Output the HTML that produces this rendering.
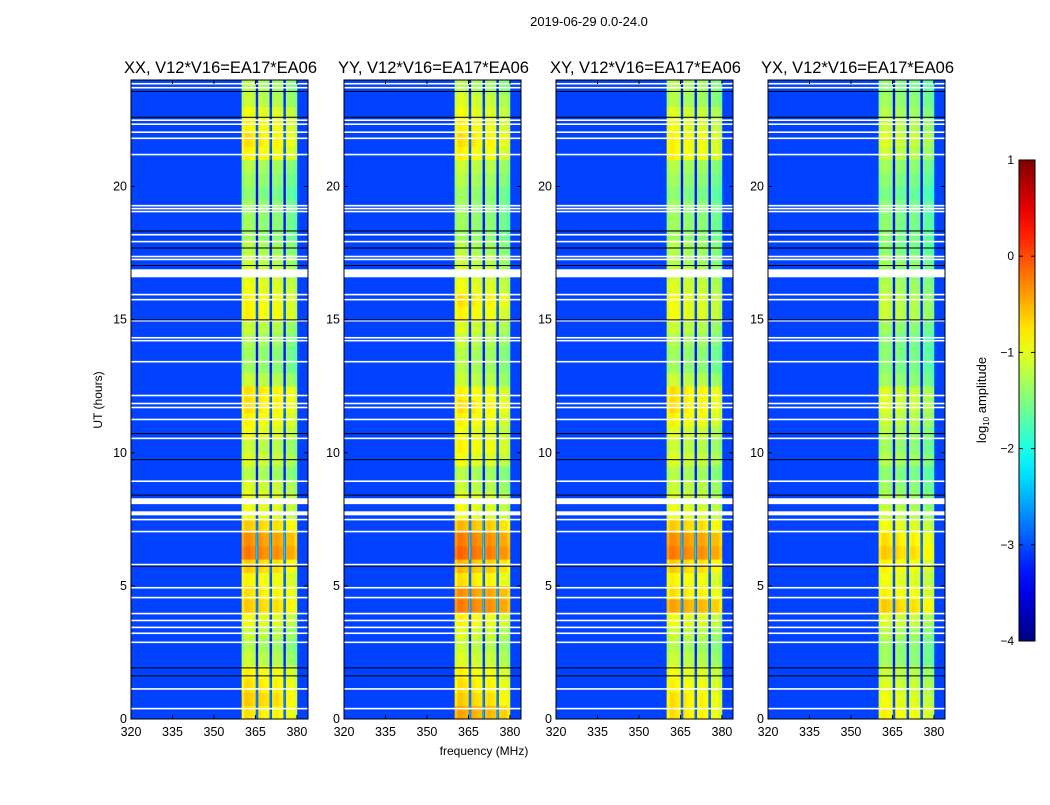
<!DOCTYPE html>
<html><head><meta charset="utf-8"><style>
body{margin:0;background:#fff;font-family:"Liberation Sans","DejaVu Sans",sans-serif}
svg text{font-family:"Liberation Sans","DejaVu Sans",sans-serif}
</style></head><body>
<svg id="fig" width="1050" height="800" xmlns="http://www.w3.org/2000/svg">
<rect width="1050" height="800" fill="#fff"/>
<text x="589" y="26" font-size="13" text-anchor="middle">2019-06-29 0.0-24.0</text>
<text x="484" y="755" font-size="12" text-anchor="middle">frequency (MHz)</text>
<text x="0" y="0" font-size="12" text-anchor="middle" transform="translate(102,400) rotate(-90)">UT (hours)</text>
<g id="panels"></g>
<g id="cbar"></g>
</svg>
<script>
const panelTitles=["XX, V12*V16=EA17*EA06","YY, V12*V16=EA17*EA06","XY, V12*V16=EA17*EA06","YX, V12*V16=EA17*EA06"];
const xTicks=[320,335,350,365,380];
const yTicks=[0,5,10,15,20];
const cbTicks=[1,0,-1,-2,-3,-4];
const backgroundLevel=-3.05;
// offset per 1 MHz bin from 320..383; null = background
const freqOffset=[null,null,null,null,null,null,null,null,null,null,null,null,null,null,null,null,null,null,null,null,
null,null,null,null,null,null,null,null,null,null,null,null,null,null,null,null,null,null,null,null,
-0.05,0.1,0.1,0.05,0,-2.0,0.05,0,-0.05,-0.05,-2.0,-0.05,0,-0.05,-0.1,-2.0,-0.15,-0.15,-0.15,-0.3,null,null,null,null];
// half-hour band levels per panel
const levelsXX=[-0.8,-0.7,-0.8,-0.9,-1.2,-1.3,-1.2,-1.0,-0.7,-0.8,-0.9,-0.7,-0.3,-0.4,-0.7,-1.0,-1.0,-1.1,-1.3,-1.1,-1.2,-1.0,-0.9,-0.8,-0.8,-1.2,-1.4,-1.4,-1.3,-1.2,-0.9,-0.9,-1.0,-1.1,-1.2,-1.3,-1.4,-1.4,-1.4,-1.5,-1.4,-1.3,-0.9,-0.8,-0.9,-1.0,-1.2,-1.3];
const levelsYY=[-0.5,-0.7,-0.8,-0.9,-1.1,-1.2,-1.1,-0.9,-0.3,-0.4,-0.8,-0.6,-0.2,-0.3,-0.6,-1.0,-1.0,-1.2,-1.3,-1.0,-0.9,-1.0,-0.9,-0.8,-0.9,-1.2,-1.3,-1.3,-1.2,-1.1,-0.9,-0.8,-1.0,-1.1,-1.2,-1.3,-1.4,-1.4,-1.4,-1.4,-1.3,-1.2,-0.9,-0.8,-0.9,-1.0,-1.1,-1.3];
const levelsXY=[-0.8,-0.8,-0.9,-1.0,-1.2,-1.3,-1.2,-1.0,-0.5,-0.8,-0.9,-0.7,-0.3,-0.4,-0.7,-1.0,-1.1,-1.2,-1.3,-1.1,-1.2,-1.1,-0.9,-0.8,-0.8,-1.2,-1.4,-1.4,-1.3,-1.2,-1.0,-1.0,-1.1,-1.2,-1.3,-1.3,-1.4,-1.4,-1.4,-1.5,-1.4,-1.3,-0.9,-0.9,-1.0,-1.1,-1.3,-1.3];
const levelsYX=[-0.9,-1.0,-1.1,-1.2,-1.4,-1.4,-1.3,-1.1,-0.7,-0.9,-1.0,-0.9,-0.7,-0.8,-1.0,-1.2,-1.3,-1.4,-1.5,-1.3,-1.4,-1.3,-1.2,-1.1,-1.1,-1.4,-1.5,-1.5,-1.5,-1.4,-1.2,-1.2,-1.3,-1.4,-1.4,-1.5,-1.5,-1.5,-1.5,-1.6,-1.5,-1.4,-1.2,-1.1,-1.2,-1.3,-1.4,-1.5];
const panelLevels=[levelsXX,levelsYY,levelsXY,levelsYX];
// flagged (white) hour ranges
const flagStart=[23.83,23.68,22.46,22.31,22.01,21.78,21.17,19.25,19.14,19.03,18.16,17.9,17.34,17.23,16.59,15.91,15.72,14.93,14.29,14.18,13.39,12.12,11.82,11.67,11.22,10.51,8.9,8.07,7.65,7.46,7.01,5.77,4.9,4.53,3.93,3.67,3.41,3.19,2.85,1.1,0.36];
const flagEnd=[23.89,23.74,22.52,22.37,22.07,21.84,21.23,19.31,19.2,19.09,18.22,17.96,17.4,17.29,16.89,15.97,15.78,14.99,14.35,14.24,13.45,12.18,11.88,11.73,11.28,10.57,8.96,8.29,7.8,7.52,7.07,5.83,4.96,4.59,3.99,3.73,3.47,3.25,2.91,1.16,0.42];
const blackLines=[23.57,22.6,18.33,17.69,17.03,14.99,10.72,9.74,8.41,5.74,1.92,1.62];

const W=177,Y0=80,Y1=719,FMIN=320,FMAX=384,HMAX=24;
const px=[131,344,556,768];
const NS="http://www.w3.org/2000/svg";
function mk(t,a,p){const e=document.createElementNS(NS,t);for(const k in a)e.setAttribute(k,a[k]);p.appendChild(e);return e;}
function jet(v){let t=(v+4)/5;t=Math.max(0,Math.min(1,t));
 const c=x=>Math.round(255*Math.max(0,Math.min(1,x)));
 return `rgb(${c(1.5-Math.abs(4*t-3))},${c(1.5-Math.abs(4*t-2))},${c(1.5-Math.abs(4*t-1))})`;}
const yOf=h=>Y1-(h/HMAX)*(Y1-Y0);
const panels=document.getElementById('panels');
panelLevels.forEach((lev,p)=>{
 const x0=px[p];const xOf=f=>x0+(f-FMIN)/(FMAX-FMIN)*W;
 const g=mk('g',{},panels);
 
 
 const bg=mk('rect',{x:x0,y:Y0,width:W,height:Y1-Y0,fill:jet(backgroundLevel)},g);
 
 
 const hm=mk('g',{},g);
 
 
 freqOffset.forEach((off,fi)=>{
  if(off===null)return;
  lev.forEach((lv,ti)=>{
   const h0=ti*0.5,h1=h0+0.5;
   const narrow=off<-1;
   const fx=xOf(FMIN+fi)+(narrow?0.6:0);
   const fw=narrow?1.6:xOf(FMIN+fi+1)-xOf(FMIN+fi)+0.3;
   const r=mk('rect',{x:fx,y:yOf(h1),width:fw,height:yOf(h0)-yOf(h1)+0.3,fill:jet(lv+off)},hm);
   
   
  });
 });
 flagStart.forEach((s,i)=>{
  const r=mk('rect',{x:x0,y:yOf(flagEnd[i]),width:W,height:Math.max(1.2,yOf(s)-yOf(flagEnd[i])),fill:'#fff'},g);
  
  
 });
 blackLines.forEach(h=>{
  const r=mk('rect',{x:x0,y:yOf(h)-0.5,width:W,height:1,fill:'#000'},g);
  
  
 });
 const fr=mk('rect',{x:x0,y:Y0,width:W,height:Y1-Y0,fill:'none',stroke:'#000','stroke-width':1},g);
 
 
 const t=mk('text',{x:x0+W/2+1,y:73,'font-size':16.5,'text-anchor':'middle'},g);t.textContent=panelTitles[p];
 
 
 xTicks.forEach(v=>{const x=xOf(v);
  mk('line',{x1:x,x2:x,y1:Y1,y2:Y1-4,stroke:'#000'},g);mk('line',{x1:x,x2:x,y1:Y0,y2:Y0+4,stroke:'#000'},g);
  const l=mk('text',{x:x,y:736,'font-size':12.5,'text-anchor':'middle'},g);l.textContent=v;
  
  });
 yTicks.forEach(v=>{const y=yOf(v);
  mk('line',{x1:x0,x2:x0+4,y1:y,y2:y,stroke:'#000'},g);mk('line',{x1:x0+W,x2:x0+W-4,y1:y,y2:y,stroke:'#000'},g);
  const l=mk('text',{x:x0-4,y:y+4,'font-size':12.5,'text-anchor':'end'},g);l.textContent=v;
  
  });
});
// colorbar
const cb=document.getElementById('cbar');
const CX=1019,CW=16,CY0=160,CY1=641,CMIN=-4,CMAX=1;
const cy=v=>CY1-(v-CMIN)/(CMAX-CMIN)*(CY1-CY0);
const defs=mk('defs',{},cb);const lg=mk('linearGradient',{id:'jg',x1:0,y1:1,x2:0,y2:0},defs);
for(let i=0;i<=20;i++){const v=CMIN+i*(CMAX-CMIN)/20;mk('stop',{offset:i/20,'stop-color':jet(v)},lg);}
const cr=mk('rect',{x:CX,y:CY0,width:CW,height:CY1-CY0,fill:'url(#jg)',stroke:'#000'},cb);


cbTicks.forEach(v=>{const y=cy(v);
 mk('line',{x1:CX,x2:CX+4,y1:y,y2:y,stroke:'#000'},cb);mk('line',{x1:CX+CW,x2:CX+CW-4,y1:y,y2:y,stroke:'#000'},cb);
 const l=mk('text',{x:CX-5,y:y+4,'font-size':12,'text-anchor':'end'},cb);l.textContent=v<0?'\u2212'+(-v):v;
 
 });
const ct=mk('text',{x:0,y:0,'font-size':13,'text-anchor':'middle',transform:'translate(986,400) rotate(-90)'},cb);
ct.innerHTML='log<tspan font-size="8" dy="3">10</tspan><tspan dy="-3"> amplitude</tspan>';


</script>
</body></html>
